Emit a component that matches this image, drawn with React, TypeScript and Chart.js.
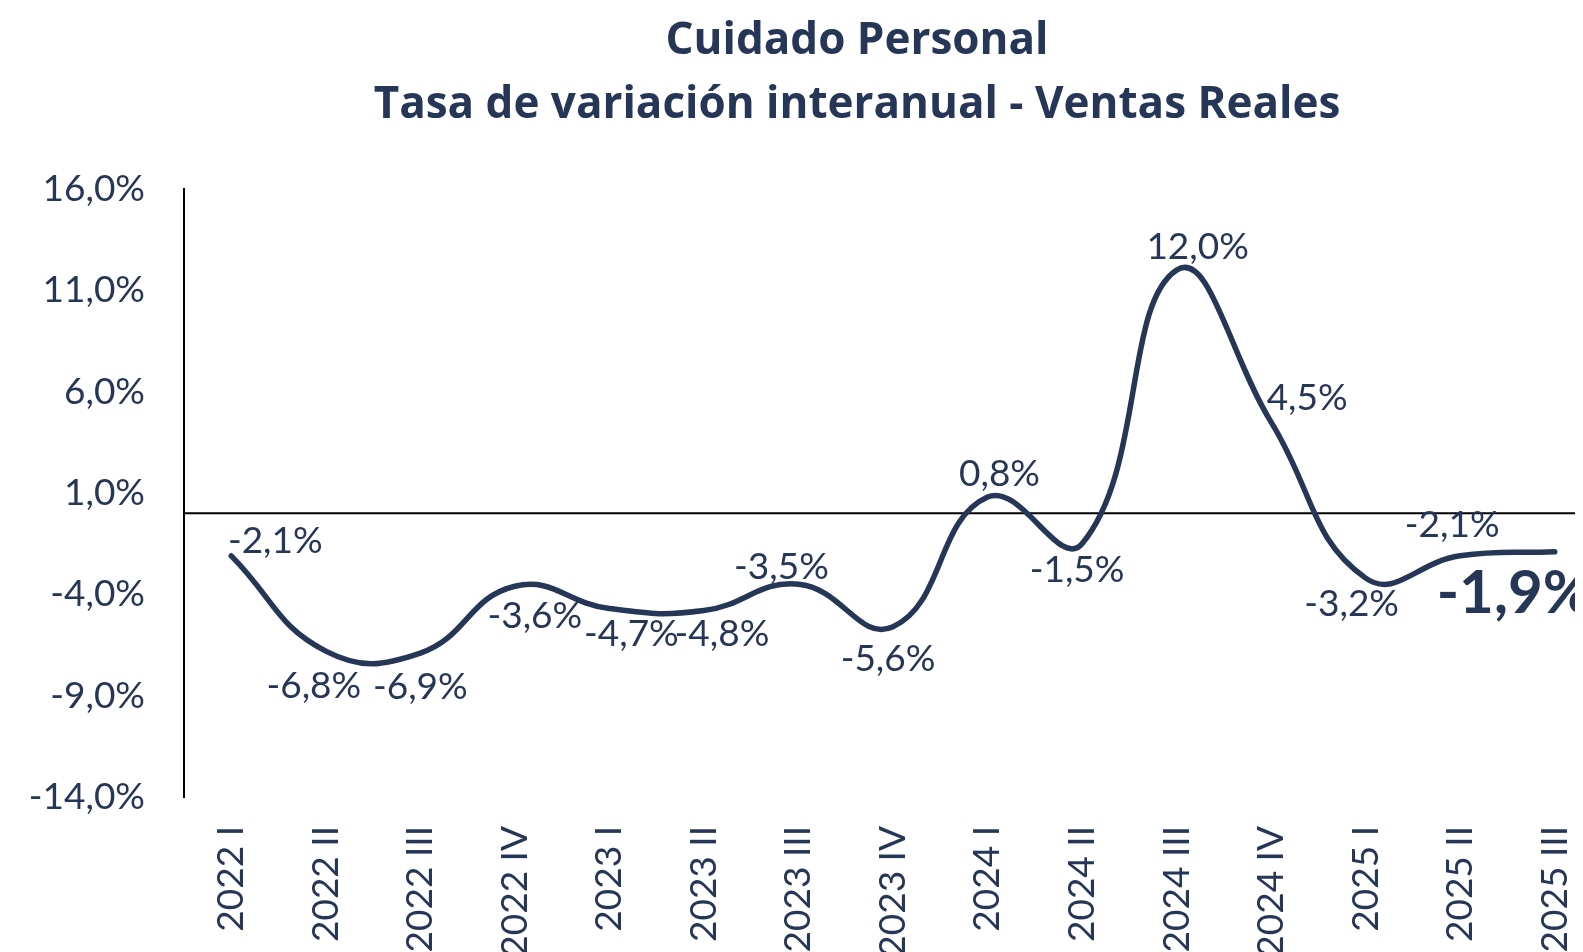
import React, { useEffect, useRef } from 'react';
import { Chart, registerables } from 'chart.js';

Chart.register(...registerables);

const titleLines = ['Cuidado Personal', 'Tasa de variación interanual - Ventas Reales'];

const categories = [
  '2022 I', '2022 II', '2022 III', '2022 IV',
  '2023 I', '2023 II', '2023 III', '2023 IV',
  '2024 I', '2024 II', '2024 III', '2024 IV',
  '2025 I', '2025 II', '2025 III',
];

const values = [-2.1, -6.8, -6.9, -3.6, -4.7, -4.8, -3.5, -5.6, 0.8, -1.5, 12.0, 4.5, -3.2, -2.1, -1.9];

const yMin = -14;
const yMax = 16;
const yStep = 5;

// label placement relative to each point (px)
const labelDx = [44, -12, 0, 20, 22, 18, -17, -5, 12, -5, 21, 36, -14, -8, -118];
const labelDy = [-15, 35, 34, 30, 26, 24, -17, 32, -23, 26, -23, -24, 26, -31, 42];
const highlightIndex = 14;

const NAVY = '#263656';
const FONT = 'Lato';
const TITLE_FONT = '"Open Sans"';

const fmt = (v: number) => v.toFixed(1).replace('.', ',') + '%';

const titlePlugin = {
  id: 'customTitle',
  afterDraw(chart: any) {
    const ctx = chart.ctx;
    ctx.save();
    ctx.fillStyle = NAVY;
    ctx.font = `bold 44px ${TITLE_FONT}`;
    ctx.textAlign = 'center';
    ctx.textBaseline = 'middle';
    ctx.fillText(titleLines[0], 849, 33);
    ctx.fillText(titleLines[1], 849, 97);
    ctx.restore();
  },
};

const zeroLinePlugin = {
  id: 'zeroLine',
  beforeDatasetsDraw(chart: any) {
    const y = chart.scales.y.getPixelForValue(0);
    const ctx = chart.ctx;
    ctx.save();
    ctx.strokeStyle = '#000000';
    ctx.lineWidth = 2;
    ctx.beginPath();
    ctx.moveTo(chart.chartArea.left, y);
    ctx.lineTo(chart.width, y);
    ctx.stroke();
    ctx.restore();
  },
};

const labelPlugin = {
  id: 'pointLabels',
  afterDatasetsDraw(chart: any) {
    const meta = chart.getDatasetMeta(0);
    const ctx = chart.ctx;
    ctx.save();
    ctx.fillStyle = NAVY;
    ctx.textBaseline = 'middle';
    meta.data.forEach((pt: any, i: number) => {
      const v = values[i];
      if (i === highlightIndex) {
        ctx.font = `bold 60px ${FONT}`;
        ctx.textAlign = 'left';
      } else {
        ctx.font = `37px ${FONT}`;
        ctx.textAlign = 'center';
      }
      ctx.fillText(fmt(v), pt.x + labelDx[i], pt.y + labelDy[i]);
    });
    ctx.restore();
  },
};

export default function App() {
  const ref = useRef<HTMLCanvasElement | null>(null);

  useEffect(() => {
    document.body.style.overflow = 'hidden';
    if (!ref.current) return;
    const chart = new Chart(ref.current, {
      type: 'line',
      data: {
        labels: categories,
        datasets: [
          {
            data: values,
            borderColor: NAVY,
            borderWidth: 5.5,
            tension: 0.45,
            pointRadius: 0,
            fill: false,
            borderCapStyle: 'round',
          },
        ],
      },
      options: {
        responsive: false,
        animation: false,
        devicePixelRatio: 1,
        layout: { padding: { left: 0, right: 104, top: 181, bottom: 0 } },
        plugins: {
          legend: { display: false },
          tooltip: { enabled: false },
          title: { display: false },
        },
        scales: {
          x: {
            type: 'category',
            offset: true,
            grid: { display: false },
            border: { display: false },
            ticks: {
              autoSkip: false,
              maxRotation: 90,
              minRotation: 90,
              color: NAVY,
              font: { family: FONT, size: 37 },
              padding: 21,
            },
            afterFit: (s: any) => {
              s.height = 211;
            },
          },
          y: {
            min: yMin,
            max: yMax,
            grid: { display: false },
            border: { display: true, color: '#000000', width: 2 },
            ticks: {
              stepSize: yStep,
              color: NAVY,
              font: { family: FONT, size: 37 },
              padding: 31,
              callback: (v: any) => fmt(Number(v)),
            },
            afterFit: (s: any) => {
              s.width = 176;
            },
          },
        },
      },
      plugins: [zeroLinePlugin, labelPlugin, titlePlugin],
    } as any);
    return () => chart.destroy();
  }, []);

  return (
    <div style={{ width: 1698, height: 1000 }}>
      <canvas ref={ref} width={1698} height={1000} />
    </div>
  );
}
